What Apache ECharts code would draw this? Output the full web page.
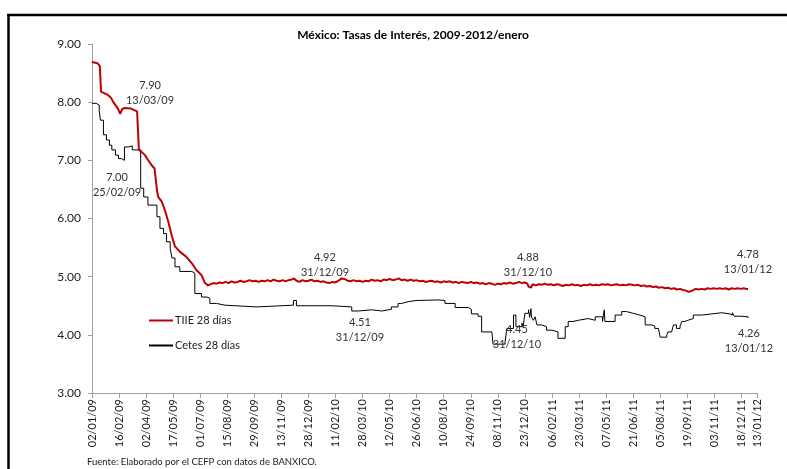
<!DOCTYPE html>
<html>
<head>
<meta charset="utf-8">
<script src="https://cdn.jsdelivr.net/npm/echarts@6/dist/echarts.min.js"></script>
<style>
html,body{margin:0;padding:0;background:#fff;}
#c{width:787px;height:469px;}
</style>
</head>
<body>
<div id="c"></div>
<script>
// Days counted from 02/01/2009
const startDate = Date.UTC(2009, 0, 2);
const axisMaxDay = 1106;      // 13/01/2012
const tickEveryDays = 45;

const yTicks = [3, 4, 5, 6, 7, 8, 9];

const tiieDay = [0, 9, 13, 15, 18, 27, 32, 35, 43, 47, 50, 54, 65, 71, 75, 78, 82, 88, 93, 99, 104, 108, 110, 116, 121, 127, 133, 138, 146, 157, 166, 174, 182, 188, 193,
  202, 207, 212, 217, 222, 227, 232, 237, 242, 247, 252, 257, 262, 267, 272, 277, 282, 287, 292, 297, 302, 307, 312, 317, 322, 327, 332, 336, 340, 345, 350, 355, 360, 365, 370, 375, 380, 385, 390, 395, 400, 405, 410, 415, 420, 425, 430, 435, 440, 445, 450, 455, 460, 465, 470, 475, 480, 485, 490, 495, 500, 505, 510, 515, 520, 525, 530, 535, 540, 545, 550, 555, 560, 565, 570, 575, 580, 585, 590, 595, 600, 605, 610, 615, 620, 625, 630, 635, 640, 645, 650, 655, 660, 665, 670, 675, 680, 685, 690, 695, 700, 705, 710, 715, 720, 724, 726, 728, 730, 733, 738, 743, 748, 753, 758, 763, 768, 773, 778, 783, 788, 793, 798, 803, 808, 813, 818, 823, 828, 833, 838, 843, 848, 853, 858, 863, 868, 873, 878, 883, 888, 893, 898, 903, 908, 913, 918, 923, 928, 933, 938, 943, 948, 953, 958, 963, 968, 973, 978, 983, 988, 992, 996, 1000, 1004, 1009, 1014, 1019, 1024, 1029, 1034, 1039, 1044, 1049, 1054, 1059, 1064, 1069, 1074, 1079, 1084, 1088, 1091];
const tiieValue = [8.69, 8.67, 8.62, 8.18, 8.15, 8.12, 8.07, 8.01, 7.89, 7.80, 7.88, 7.90, 7.89, 7.86, 7.84, 7.18, 7.15, 7.09, 7.01, 6.92, 6.86, 6.49, 6.37, 6.29, 6.15, 5.94, 5.69, 5.52, 5.43, 5.34, 5.23, 5.11, 5.03, 4.89, 4.85,
  4.89, 4.88, 4.90, 4.89, 4.91, 4.89, 4.92, 4.90, 4.91, 4.93, 4.91, 4.92, 4.94, 4.92, 4.93, 4.91, 4.93, 4.92, 4.94, 4.92, 4.95, 4.93, 4.92, 4.94, 4.92, 4.94, 4.95, 4.97, 4.93, 4.91, 4.94, 4.92, 4.93, 4.95, 4.92, 4.93, 4.91, 4.92, 4.90, 4.89, 4.91, 4.90, 4.93, 4.97, 4.96, 4.93, 4.92, 4.94, 4.92, 4.93, 4.91, 4.93, 4.92, 4.95, 4.93, 4.94, 4.92, 4.95, 4.94, 4.96, 4.94, 4.95, 4.97, 4.94, 4.95, 4.93, 4.95, 4.93, 4.94, 4.92, 4.93, 4.91, 4.92, 4.93, 4.91, 4.92, 4.90, 4.92, 4.91, 4.92, 4.90, 4.91, 4.89, 4.91, 4.90, 4.89, 4.91, 4.89, 4.90, 4.88, 4.89, 4.87, 4.89, 4.88, 4.86, 4.88, 4.87, 4.89, 4.88, 4.90, 4.88, 4.89, 4.91, 4.89, 4.90, 4.88, 4.83, 4.86, 4.81, 4.87, 4.85, 4.87, 4.86, 4.88, 4.86, 4.87, 4.85, 4.87, 4.86, 4.84, 4.86, 4.85, 4.87, 4.85, 4.86, 4.84, 4.86, 4.85, 4.87, 4.85, 4.86, 4.85, 4.87, 4.86, 4.87, 4.85, 4.86, 4.87, 4.85, 4.86, 4.85, 4.87, 4.86, 4.85, 4.86, 4.84, 4.85, 4.83, 4.84, 4.82, 4.83, 4.81, 4.82, 4.80, 4.81, 4.79, 4.80, 4.78, 4.79, 4.77, 4.76, 4.74, 4.75, 4.77, 4.79, 4.78, 4.79, 4.78, 4.80, 4.79, 4.80, 4.79, 4.80, 4.79, 4.80, 4.78, 4.80, 4.79, 4.80, 4.79, 4.80, 4.79, 4.79];

const cetesDay = [0, 7, 12, 14, 19, 24, 29, 33, 39, 44, 49, 54, 61, 67, 81, 86, 93, 108, 113, 119, 124, 130, 133, 138, 146, 166, 168, 171, 182, 191, 196, 207, 221, 274, 335, 340, 399, 432, 443, 465, 482, 498, 509, 515, 526, 539, 576, 587, 604, 626, 631, 642, 648, 665, 667, 687, 690, 701, 705, 715, 717, 720, 726, 728, 730, 731, 734, 737, 740, 748, 756, 765, 775, 787, 792, 800, 809, 825, 837, 849, 852, 853, 870, 881, 889, 900, 911, 920, 931, 936, 942, 945, 956, 958, 964, 967, 972, 978, 981, 986, 991, 1000, 1014, 1031, 1047, 1061, 1065, 1068, 1080, 1091];
const cetesValue = [7.98, 7.95, 7.86, 7.69, 7.44, 7.35, 7.26, 7.18, 7.09, 7.03, 7.00, 7.23, 7.25, 7.18, 6.52, 6.37, 6.23, 6.03, 5.83, 5.74, 5.60, 5.49, 5.32, 5.17, 5.09, 5.11, 5.06, 4.71, 4.65, 4.63, 4.54, 4.51, 4.48, 4.51, 4.59, 4.50, 4.48, 4.41, 4.43, 4.41, 4.44, 4.48, 4.54, 4.57, 4.59, 4.60, 4.59, 4.54, 4.47, 4.44, 4.36, 4.32, 4.05, 4.02, 3.84, 3.88, 4.11, 4.34, 4.14, 4.20, 4.14, 4.37, 4.43, 4.30, 4.45, 4.30, 4.25, 4.31, 4.17, 4.14, 4.08, 4.05, 3.94, 4.14, 4.23, 4.25, 4.28, 4.25, 4.31, 4.23, 4.43, 4.23, 4.34, 4.40, 4.37, 4.34, 4.31, 4.17, 4.15, 4.11, 4.08, 3.96, 4.00, 4.05, 4.08, 4.17, 4.11, 4.15, 4.23, 4.25, 4.28, 4.34, 4.36, 4.38, 4.36, 4.34, 4.38, 4.32, 4.31, 4.29];

// Annotations: text block placed at [day, value]
const tiieNotes = [
  {day: 96.5, value: 8.166, text: '7.90\n13/03/09'},
  {day: 387.5, value: 5.20, text: '4.92\n31/12/09'},
  {day: 725, value: 5.209, text: '4.88\n31/12/10'},
  {day: 1091, value: 5.252, text: '4.78\n13/01/12'}
];
const cetesNotes = [
  {day: 41.6, value: 6.576, text: '7.00\n25/02/09'},
  {day: 445.7, value: 4.09, text: '4.51\n31/12/09'},
  {day: 706.8, value: 3.963, text: '4.45\n31/12/10'},
  {day: 1092.6, value: 3.894, text: '4.26\n13/01/12'}
];

function fmtDay(d) {
  const dt = new Date(startDate + Math.round(d) * 86400000);
  const p = n => String(n).padStart(2, '0');
  return p(dt.getUTCDate()) + '/' + p(dt.getUTCMonth() + 1) + '/' + p(dt.getUTCFullYear() % 100);
}
const zip = (a, b) => a.map((x, i) => [x, b[i]]);
const notes = arr => ({
  symbol: 'circle', symbolSize: 0, silent: true,
  label: {show: true, position: 'inside', formatter: p => p.data.text, color: '#333', fontSize: 11, lineHeight: 15, fontFamily: 'Lato'},
  data: arr.map(n => ({coord: [n.day, n.value], text: n.text}))
});

const FONT = 'Lato';
const chart = echarts.init(document.getElementById('c'), null, {renderer: 'canvas'});
chart.setOption({
  animation: false,
  backgroundColor: '#fff',
  textStyle: {fontFamily: FONT},
  title: {
    text: 'México: Tasas de Interés, 2009-2012/enero',
    left: 408, top: 24, textAlign: 'center',
    textStyle: {fontSize: 12, fontWeight: 'bold', color: '#000', fontFamily: FONT}
  },
  grid: {left: 92, right: 30, top: 44, bottom: 76, containLabel: false},
  legend: {
    orient: 'vertical', left: 143, top: 310, itemWidth: 24, itemHeight: 12, itemGap: 14,
    itemStyle: {opacity: 0},
    textStyle: {fontSize: 11, color: '#222', fontFamily: FONT, padding: [0, 0, 0, -3]},
    data: ['TIIE 28 días', 'Cetes 28 días']
  },
  xAxis: {
    type: 'value', min: 0, max: axisMaxDay, interval: tickEveryDays,
    axisLine: {show: true, lineStyle: {color: '#a0a0a0', width: 1}},
    axisTick: {show: true, length: 5, lineStyle: {color: '#a0a0a0'}},
    splitLine: {show: false},
    axisLabel: {rotate: 90, formatter: v => fmtDay(v), fontSize: 11, color: '#222', margin: 6, fontFamily: FONT, showMaxLabel: true, showMinLabel: true, hideOverlap: false}
  },
  yAxis: {
    type: 'value', min: yTicks[0], max: yTicks[yTicks.length - 1], interval: 1,
    axisLine: {show: true, lineStyle: {color: '#a0a0a0', width: 1}},
    axisTick: {show: true, length: 4, lineStyle: {color: '#a0a0a0'}},
    splitLine: {show: false},
    axisLabel: {formatter: v => v.toFixed(2), fontSize: 12, color: '#222', margin: 11, fontFamily: FONT}
  },
  series: [
    {
      name: 'Cetes 28 días', type: 'line', step: 'end', symbol: 'none',
      lineStyle: {color: '#000', width: 1}, itemStyle: {color: '#000'},
      data: zip(cetesDay, cetesValue), z: 2,
      markPoint: notes(cetesNotes)
    },
    {
      name: 'TIIE 28 días', type: 'line', symbol: 'none',
      lineStyle: {color: '#c00000', width: 2}, itemStyle: {color: '#c00000'},
      data: zip(tiieDay, tiieValue), z: 3,
      markPoint: notes(tiieNotes)
    }
  ],
  graphic: [
    {type: 'line', shape: {x1: 7, y1: 15, x2: 787, y2: 15}, style: {stroke: '#000', lineWidth: 2.5}, silent: true},
    {type: 'line', shape: {x1: 8.5, y1: 14, x2: 8.5, y2: 469}, style: {stroke: '#000', lineWidth: 2.5}, silent: true},
    {type: 'text', left: 87, top: 457, style: {text: 'Fuente: Elaborado por el CEFP con datos de BANXICO.', fontSize: 9.5, fill: '#222', fontFamily: FONT}, silent: true}
  ]
});
</script>
</body>
</html>
